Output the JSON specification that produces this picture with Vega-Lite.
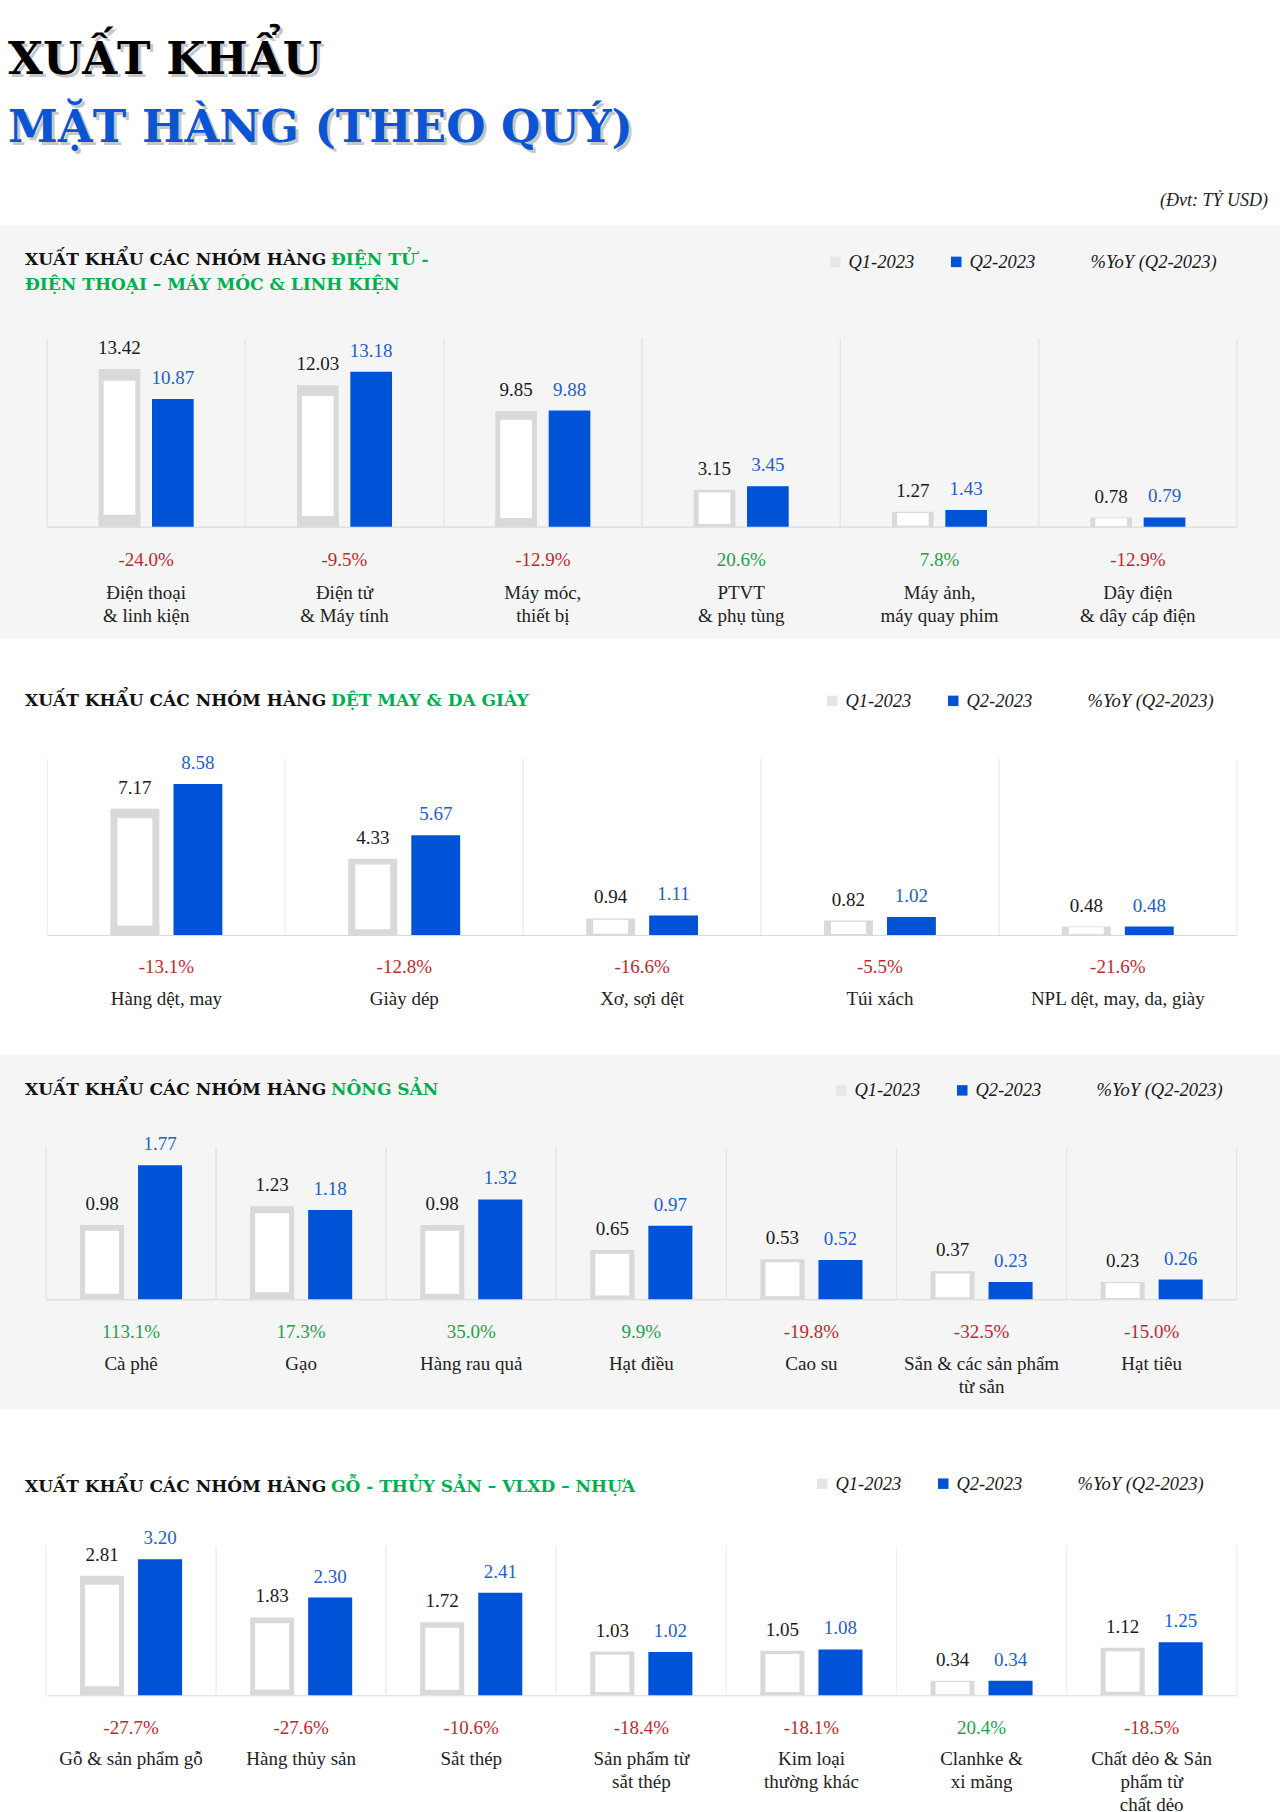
{
  "$schema": "https://vega.github.io/schema/vega-lite/v6.json",
  "padding": 0,
  "autosize": {"type": "pad"},
  "background": "#FFFFFF",
  "config": {
    "view": {"stroke": null},
    "locale": {"number": {"decimal": ".", "thousands": ",", "grouping": [3], "currency": ["$", ""], "minus": "-", "percent": "%"}}
  },
  "datasets": {
    "dientu": [
      {"cat": "Điện thoại|& linh kiện", "q": "Q1-2023", "v": 13.42, "yoy": -0.240},
      {"cat": "Điện thoại|& linh kiện", "q": "Q2-2023", "v": 10.87, "yoy": -0.240},
      {"cat": "Điện tử|& Máy tính", "q": "Q1-2023", "v": 12.03, "yoy": -0.095},
      {"cat": "Điện tử|& Máy tính", "q": "Q2-2023", "v": 13.18, "yoy": -0.095},
      {"cat": "Máy móc,|thiết bị", "q": "Q1-2023", "v": 9.85, "yoy": -0.129},
      {"cat": "Máy móc,|thiết bị", "q": "Q2-2023", "v": 9.88, "yoy": -0.129},
      {"cat": "PTVT|& phụ tùng", "q": "Q1-2023", "v": 3.15, "yoy": 0.206},
      {"cat": "PTVT|& phụ tùng", "q": "Q2-2023", "v": 3.45, "yoy": 0.206},
      {"cat": "Máy ảnh,|máy quay phim", "q": "Q1-2023", "v": 1.27, "yoy": 0.078},
      {"cat": "Máy ảnh,|máy quay phim", "q": "Q2-2023", "v": 1.43, "yoy": 0.078},
      {"cat": "Dây điện|& dây cáp điện", "q": "Q1-2023", "v": 0.78, "yoy": -0.129},
      {"cat": "Dây điện|& dây cáp điện", "q": "Q2-2023", "v": 0.79, "yoy": -0.129}
    ],
    "detmay": [
      {"cat": "Hàng dệt, may", "q": "Q1-2023", "v": 7.17, "yoy": -0.131},
      {"cat": "Hàng dệt, may", "q": "Q2-2023", "v": 8.58, "yoy": -0.131},
      {"cat": "Giày dép", "q": "Q1-2023", "v": 4.33, "yoy": -0.128},
      {"cat": "Giày dép", "q": "Q2-2023", "v": 5.67, "yoy": -0.128},
      {"cat": "Xơ, sợi dệt", "q": "Q1-2023", "v": 0.94, "yoy": -0.166},
      {"cat": "Xơ, sợi dệt", "q": "Q2-2023", "v": 1.11, "yoy": -0.166},
      {"cat": "Túi xách", "q": "Q1-2023", "v": 0.82, "yoy": -0.055},
      {"cat": "Túi xách", "q": "Q2-2023", "v": 1.02, "yoy": -0.055},
      {"cat": "NPL dệt, may, da, giày", "q": "Q1-2023", "v": 0.48, "yoy": -0.216},
      {"cat": "NPL dệt, may, da, giày", "q": "Q2-2023", "v": 0.48, "yoy": -0.216}
    ],
    "nongsan": [
      {"cat": "Cà phê", "q": "Q1-2023", "v": 0.98, "yoy": 1.131},
      {"cat": "Cà phê", "q": "Q2-2023", "v": 1.77, "yoy": 1.131},
      {"cat": "Gạo", "q": "Q1-2023", "v": 1.23, "yoy": 0.173},
      {"cat": "Gạo", "q": "Q2-2023", "v": 1.18, "yoy": 0.173},
      {"cat": "Hàng rau quả", "q": "Q1-2023", "v": 0.98, "yoy": 0.350},
      {"cat": "Hàng rau quả", "q": "Q2-2023", "v": 1.32, "yoy": 0.350},
      {"cat": "Hạt điều", "q": "Q1-2023", "v": 0.65, "yoy": 0.099},
      {"cat": "Hạt điều", "q": "Q2-2023", "v": 0.97, "yoy": 0.099},
      {"cat": "Cao su", "q": "Q1-2023", "v": 0.53, "yoy": -0.198},
      {"cat": "Cao su", "q": "Q2-2023", "v": 0.52, "yoy": -0.198},
      {"cat": "Sắn & các sản phẩm|từ sắn", "q": "Q1-2023", "v": 0.37, "yoy": -0.325},
      {"cat": "Sắn & các sản phẩm|từ sắn", "q": "Q2-2023", "v": 0.23, "yoy": -0.325},
      {"cat": "Hạt tiêu", "q": "Q1-2023", "v": 0.23, "yoy": -0.150},
      {"cat": "Hạt tiêu", "q": "Q2-2023", "v": 0.26, "yoy": -0.150}
    ],
    "go": [
      {"cat": "Gỗ & sản phẩm gỗ", "q": "Q1-2023", "v": 2.81, "yoy": -0.277},
      {"cat": "Gỗ & sản phẩm gỗ", "q": "Q2-2023", "v": 3.20, "yoy": -0.277},
      {"cat": "Hàng thủy sản", "q": "Q1-2023", "v": 1.83, "yoy": -0.276},
      {"cat": "Hàng thủy sản", "q": "Q2-2023", "v": 2.30, "yoy": -0.276},
      {"cat": "Sắt thép", "q": "Q1-2023", "v": 1.72, "yoy": -0.106},
      {"cat": "Sắt thép", "q": "Q2-2023", "v": 2.41, "yoy": -0.106},
      {"cat": "Sản phẩm từ|sắt thép", "q": "Q1-2023", "v": 1.03, "yoy": -0.184},
      {"cat": "Sản phẩm từ|sắt thép", "q": "Q2-2023", "v": 1.02, "yoy": -0.184},
      {"cat": "Kim loại|thường khác", "q": "Q1-2023", "v": 1.05, "yoy": -0.181},
      {"cat": "Kim loại|thường khác", "q": "Q2-2023", "v": 1.08, "yoy": -0.181},
      {"cat": "Clanhke &|xi măng", "q": "Q1-2023", "v": 0.34, "yoy": 0.204},
      {"cat": "Clanhke &|xi măng", "q": "Q2-2023", "v": 0.34, "yoy": 0.204},
      {"cat": "Chất dẻo & Sản|phẩm từ|chất dẻo", "q": "Q1-2023", "v": 1.12, "yoy": -0.185},
      {"cat": "Chất dẻo & Sản|phẩm từ|chất dẻo", "q": "Q2-2023", "v": 1.25, "yoy": -0.185}
    ]
  },
  "spacing": 0,
  "bounds": "flush",
  "resolve": {
    "scale": {"x": "independent", "y": "independent", "xOffset": "independent", "fill": "independent"},
    "legend": {"fill": "independent"}
  },
  "vconcat": [
    {
      "width": 1280, "height": 225,
      "view": {"fill": "#FFFFFF", "stroke": null},
      "data": {"values": [{}]},
      "layer": [
        {"mark": {"type": "text", "text": "XUẤT KHẨU", "x": 11, "y": 77, "align": "left", "baseline": "alphabetic", "font": "DejaVu Serif", "fontWeight": "bold", "fontSize": 45, "color": "#8f8f8f", "opacity": 0.5}},
        {"mark": {"type": "text", "text": "XUẤT KHẨU", "x": 8, "y": 74, "align": "left", "baseline": "alphabetic", "font": "DejaVu Serif", "fontWeight": "bold", "fontSize": 45, "color": "#000000"}},
        {"mark": {"type": "text", "text": "MẶT HÀNG (THEO QUÝ)", "x": 11, "y": 145, "align": "left", "baseline": "alphabetic", "font": "DejaVu Serif", "fontWeight": "bold", "fontSize": 45, "color": "#8f8f8f", "opacity": 0.5}},
        {"mark": {"type": "text", "text": "MẶT HÀNG (THEO QUÝ)", "x": 8, "y": 142, "align": "left", "baseline": "alphabetic", "font": "DejaVu Serif", "fontWeight": "bold", "fontSize": 45, "color": "#0B55D4"}},
        {"mark": {"type": "text", "text": "(Đvt: TỶ USD)", "x": 1268, "y": 206, "align": "right", "baseline": "alphabetic", "font": "Liberation Serif", "fontStyle": "italic", "fontSize": 18, "color": "#222222"}}
      ]
    },
    {
      "width": 1280, "height": 413,
      "view": {"fill": "#F5F5F5", "stroke": null},
      "layer": [
        {
          "data": {"name": "dientu"},
          "encoding": {"x": {"field": "cat", "type": "nominal", "sort": null, "scale": {"range": [47, 1237], "paddingInner": 0, "paddingOuter": 0}, "axis": {"labels": false, "ticks": false, "title": null, "grid": false, "domainColor": "#D6D6D6", "offset": -111.3}}},
          "layer": [
            {"mark": {"type": "rule", "color": "#E6E6E6", "strokeWidth": 1}, "encoding": {"x": {"field": "cat", "type": "nominal", "sort": null, "bandPosition": 0}, "y": {"datum": 0, "type": "quantitative", "scale": {"domain": [0, 16], "range": [301.7, 113.7], "nice": false}, "axis": null}, "y2": {"datum": 16}}},
            {"mark": {"type": "rule", "color": "#E6E6E6", "strokeWidth": 1}, "encoding": {"x": {"field": "cat", "type": "nominal", "sort": null, "bandPosition": 1}, "y": {"datum": 0, "type": "quantitative", "scale": {"domain": [0, 16], "range": [301.7, 113.7], "nice": false}, "axis": null}, "y2": {"datum": 16}}},
            {"transform": [{"filter": "datum.q == 'Q1-2023'"}], "mark": {"type": "bar", "color": "#D9D9D9"}, "encoding": {"xOffset": {"field": "q", "type": "nominal", "scale": {"domain": ["Q1-2023", "Q2-2023"], "paddingInner": 0.219, "paddingOuter": 0.968}}, "y": {"field": "v", "type": "quantitative", "scale": {"domain": [0, 16], "range": [301.7, 113.7], "nice": false}, "axis": null}}},
            {"transform": [{"filter": "datum.q == 'Q1-2023'"}], "mark": {"type": "bar", "color": "#FFFFFF", "width": 31.7}, "encoding": {"xOffset": {"field": "q", "type": "nominal", "scale": {"domain": ["Q1-2023", "Q2-2023"], "paddingInner": 0.219, "paddingOuter": 0.968}}, "y": {"field": "v", "type": "quantitative", "scale": {"domain": [0, 16], "range": [301.7, 127.8], "nice": false}, "axis": null}}},
            {"transform": [{"filter": "datum.q == 'Q1-2023'"}], "mark": {"type": "bar", "color": "#D9D9D9"}, "encoding": {"xOffset": {"field": "q", "type": "nominal", "scale": {"domain": ["Q1-2023", "Q2-2023"], "paddingInner": 0.219, "paddingOuter": 0.968}}, "y": {"field": "v", "type": "quantitative", "scale": {"domain": [0, 16], "range": [301.7, 287.6], "nice": false}, "axis": null}}},
            {"transform": [{"filter": "datum.q == 'Q2-2023'"}], "mark": {"type": "bar"}, "encoding": {"xOffset": {"field": "q", "type": "nominal", "scale": {"domain": ["Q1-2023", "Q2-2023"], "paddingInner": 0.219, "paddingOuter": 0.968}}, "y": {"field": "v", "type": "quantitative", "scale": {"domain": [0, 16], "range": [301.7, 113.7], "nice": false}, "axis": null},
              "fill": {"field": "q", "type": "nominal", "scale": {"domain": ["Q1-2023", "Q2-2023", "%YoY (Q2-2023)"], "range": ["#E6E6E6", "#0052D6", "rgba(0,0,0,0)"]}, "legend": {"orient": "none", "legendX": 826, "legendY": 27.5, "direction": "horizontal", "title": null, "symbolType": "square", "symbolSize": 110, "symbolStrokeWidth": 0, "labelFont": "Liberation Serif", "labelFontStyle": "italic", "labelFontSize": 18.5, "labelColor": "#1A1A1A", "labelOffset": 4, "columnPadding": 32, "padding": 0, "labelLimit": 300}}}},
            {"mark": {"type": "text", "font": "Liberation Serif", "fontSize": 19, "baseline": "alphabetic", "dy": -15}, "encoding": {"xOffset": {"field": "q", "type": "nominal", "scale": {"domain": ["Q1-2023", "Q2-2023"], "paddingInner": 0.219, "paddingOuter": 0.968}}, "y": {"field": "v", "type": "quantitative", "scale": {"domain": [0, 16], "range": [301.7, 113.7], "nice": false}, "axis": null}, "text": {"field": "v", "type": "quantitative", "format": ".2f"}, "color": {"condition": {"test": "datum.q == 'Q2-2023'", "value": "#2160CC"}, "value": "#1A1A1A"}}},
            {"transform": [{"filter": "datum.q == 'Q2-2023'"}], "mark": {"type": "text", "font": "Liberation Serif", "fontSize": 19, "baseline": "alphabetic", "dy": 39}, "encoding": {"y": {"datum": 0, "type": "quantitative", "scale": {"domain": [0, 16], "range": [301.7, 113.7], "nice": false}, "axis": null}, "text": {"field": "yoy", "type": "quantitative", "format": ".1%"}, "color": {"condition": {"test": "datum.yoy < 0", "value": "#C0282E"}, "value": "#1AA34A"}}},
            {"transform": [{"filter": "datum.q == 'Q2-2023'"}], "mark": {"type": "text", "font": "Liberation Serif", "fontSize": 19, "baseline": "alphabetic", "dy": 72.5, "lineBreak": "|", "lineHeight": 23, "color": "#222222"}, "encoding": {"y": {"datum": 0, "type": "quantitative", "scale": {"domain": [0, 16], "range": [301.7, 113.7], "nice": false}, "axis": null}, "text": {"field": "cat", "type": "nominal"}}}
          ],
          "resolve": {"scale": {"y": "independent"}}
        },
        {"data": {"values": [{}]}, "mark": {"type": "text", "text": "XUẤT KHẨU CÁC NHÓM HÀNG", "x": 25, "y": 39.5, "align": "left", "baseline": "alphabetic", "font": "DejaVu Serif", "fontWeight": "bold", "fontSize": 17, "color": "#111111"}},
        {"data": {"values": [{}]}, "mark": {"type": "text", "text": "ĐIỆN TỬ -", "x": 331, "y": 39.5, "align": "left", "baseline": "alphabetic", "font": "DejaVu Serif", "fontWeight": "bold", "fontSize": 17, "color": "#00B050"}},
        {"data": {"values": [{}]}, "mark": {"type": "text", "text": "ĐIỆN THOẠI – MÁY MÓC & LINH KIỆN", "x": 25, "y": 64.5, "align": "left", "baseline": "alphabetic", "font": "DejaVu Serif", "fontWeight": "bold", "fontSize": 17, "color": "#00B050"}}
      ]
    },
    {
      "width": 1280, "height": 417,
      "view": {"fill": "#FFFFFF", "stroke": null},
      "layer": [
        {
          "data": {"name": "detmay"},
          "encoding": {"x": {"field": "cat", "type": "nominal", "sort": null, "scale": {"range": [47.5, 1236.7], "paddingInner": 0, "paddingOuter": 0}, "axis": {"labels": false, "ticks": false, "title": null, "grid": false, "domainColor": "#DADADA", "offset": -120}}},
          "layer": [
            {"mark": {"type": "rule", "color": "#EFEFEF", "strokeWidth": 1}, "encoding": {"x": {"field": "cat", "type": "nominal", "sort": null, "bandPosition": 0}, "y": {"datum": 0, "type": "quantitative", "scale": {"domain": [0, 10], "range": [297, 121], "nice": false}, "axis": null}, "y2": {"datum": 10}}},
            {"mark": {"type": "rule", "color": "#EFEFEF", "strokeWidth": 1}, "encoding": {"x": {"field": "cat", "type": "nominal", "sort": null, "bandPosition": 1}, "y": {"datum": 0, "type": "quantitative", "scale": {"domain": [0, 10], "range": [297, 121], "nice": false}, "axis": null}, "y2": {"datum": 10}}},
            {"transform": [{"filter": "datum.q == 'Q1-2023'"}], "mark": {"type": "bar", "color": "#D9D9D9"}, "encoding": {"xOffset": {"field": "q", "type": "nominal", "scale": {"domain": ["Q1-2023", "Q2-2023"], "paddingInner": 0.224, "paddingOuter": 1.162}}, "y": {"field": "v", "type": "quantitative", "scale": {"domain": [0, 10], "range": [297, 121], "nice": false}, "axis": null}}},
            {"transform": [{"filter": "datum.q == 'Q1-2023'"}], "mark": {"type": "bar", "color": "#FFFFFF", "width": 35}, "encoding": {"xOffset": {"field": "q", "type": "nominal", "scale": {"domain": ["Q1-2023", "Q2-2023"], "paddingInner": 0.224, "paddingOuter": 1.162}}, "y": {"field": "v", "type": "quantitative", "scale": {"domain": [0, 10], "range": [297, 134.2], "nice": false}, "axis": null}}},
            {"transform": [{"filter": "datum.q == 'Q1-2023'"}], "mark": {"type": "bar", "color": "#D9D9D9"}, "encoding": {"xOffset": {"field": "q", "type": "nominal", "scale": {"domain": ["Q1-2023", "Q2-2023"], "paddingInner": 0.224, "paddingOuter": 1.162}}, "y": {"field": "v", "type": "quantitative", "scale": {"domain": [0, 10], "range": [297, 283.8], "nice": false}, "axis": null}}},
            {"transform": [{"filter": "datum.q == 'Q2-2023'"}], "mark": {"type": "bar"}, "encoding": {"xOffset": {"field": "q", "type": "nominal", "scale": {"domain": ["Q1-2023", "Q2-2023"], "paddingInner": 0.224, "paddingOuter": 1.162}}, "y": {"field": "v", "type": "quantitative", "scale": {"domain": [0, 10], "range": [297, 121], "nice": false}, "axis": null},
              "fill": {"field": "q", "type": "nominal", "scale": {"domain": ["Q1-2023", "Q2-2023", "%YoY (Q2-2023)"], "range": ["#E6E6E6", "#0052D6", "rgba(0,0,0,0)"]}, "legend": {"orient": "none", "legendX": 823, "legendY": 53.5, "direction": "horizontal", "title": null, "symbolType": "square", "symbolSize": 110, "symbolStrokeWidth": 0, "labelFont": "Liberation Serif", "labelFontStyle": "italic", "labelFontSize": 18.5, "labelColor": "#1A1A1A", "labelOffset": 4, "columnPadding": 32, "padding": 0, "labelLimit": 300}}}},
            {"mark": {"type": "text", "font": "Liberation Serif", "fontSize": 19, "baseline": "alphabetic", "dy": -15}, "encoding": {"xOffset": {"field": "q", "type": "nominal", "scale": {"domain": ["Q1-2023", "Q2-2023"], "paddingInner": 0.224, "paddingOuter": 1.162}}, "y": {"field": "v", "type": "quantitative", "scale": {"domain": [0, 10], "range": [297, 121], "nice": false}, "axis": null}, "text": {"field": "v", "type": "quantitative", "format": ".2f"}, "color": {"condition": {"test": "datum.q == 'Q2-2023'", "value": "#2160CC"}, "value": "#1A1A1A"}}},
            {"transform": [{"filter": "datum.q == 'Q2-2023'"}], "mark": {"type": "text", "font": "Liberation Serif", "fontSize": 19, "baseline": "alphabetic", "dy": 38}, "encoding": {"y": {"datum": 0, "type": "quantitative", "scale": {"domain": [0, 10], "range": [297, 121], "nice": false}, "axis": null}, "text": {"field": "yoy", "type": "quantitative", "format": ".1%"}, "color": {"condition": {"test": "datum.yoy < 0", "value": "#C0282E"}, "value": "#1AA34A"}}},
            {"transform": [{"filter": "datum.q == 'Q2-2023'"}], "mark": {"type": "text", "font": "Liberation Serif", "fontSize": 19, "baseline": "alphabetic", "dy": 70, "lineBreak": "|", "lineHeight": 23, "color": "#222222"}, "encoding": {"y": {"datum": 0, "type": "quantitative", "scale": {"domain": [0, 10], "range": [297, 121], "nice": false}, "axis": null}, "text": {"field": "cat", "type": "nominal"}}}
          ],
          "resolve": {"scale": {"y": "independent"}}
        },
        {"data": {"values": [{}]}, "mark": {"type": "text", "text": "XUẤT KHẨU CÁC NHÓM HÀNG", "x": 25, "y": 67.7, "align": "left", "baseline": "alphabetic", "font": "DejaVu Serif", "fontWeight": "bold", "fontSize": 17, "color": "#111111"}},
        {"data": {"values": [{}]}, "mark": {"type": "text", "text": "DỆT MAY & DA GIÀY", "x": 331, "y": 67.7, "align": "left", "baseline": "alphabetic", "font": "DejaVu Serif", "fontWeight": "bold", "fontSize": 17, "color": "#00B050"}}
      ]
    },
    {
      "width": 1280, "height": 354,
      "view": {"fill": "#F5F5F5", "stroke": null},
      "layer": [
        {
          "data": {"name": "nongsan"},
          "encoding": {"x": {"field": "cat", "type": "nominal", "sort": null, "scale": {"range": [46, 1236.7], "paddingInner": 0, "paddingOuter": 0}, "axis": {"labels": false, "ticks": false, "title": null, "grid": false, "domainColor": "#D6D6D6", "offset": -109.7}}},
          "layer": [
            {"mark": {"type": "rule", "color": "#E6E6E6", "strokeWidth": 1}, "encoding": {"x": {"field": "cat", "type": "nominal", "sort": null, "bandPosition": 0}, "y": {"datum": 0, "type": "quantitative", "scale": {"domain": [0, 2], "range": [244.3, 92.9], "nice": false}, "axis": null}, "y2": {"datum": 2}}},
            {"mark": {"type": "rule", "color": "#E6E6E6", "strokeWidth": 1}, "encoding": {"x": {"field": "cat", "type": "nominal", "sort": null, "bandPosition": 1}, "y": {"datum": 0, "type": "quantitative", "scale": {"domain": [0, 2], "range": [244.3, 92.9], "nice": false}, "axis": null}, "y2": {"datum": 2}}},
            {"transform": [{"filter": "datum.q == 'Q1-2023'"}], "mark": {"type": "bar", "color": "#D9D9D9"}, "encoding": {"xOffset": {"field": "q", "type": "nominal", "scale": {"domain": ["Q1-2023", "Q2-2023"], "paddingInner": 0.241, "paddingOuter": 0.586}}, "y": {"field": "v", "type": "quantitative", "scale": {"domain": [0, 2], "range": [244.3, 92.9], "nice": false}, "axis": null}}},
            {"transform": [{"filter": "datum.q == 'Q1-2023'"}], "mark": {"type": "bar", "color": "#FFFFFF", "width": 34}, "encoding": {"xOffset": {"field": "q", "type": "nominal", "scale": {"domain": ["Q1-2023", "Q2-2023"], "paddingInner": 0.241, "paddingOuter": 0.586}}, "y": {"field": "v", "type": "quantitative", "scale": {"domain": [0, 2], "range": [244.3, 104.3], "nice": false}, "axis": null}}},
            {"transform": [{"filter": "datum.q == 'Q1-2023'"}], "mark": {"type": "bar", "color": "#D9D9D9"}, "encoding": {"xOffset": {"field": "q", "type": "nominal", "scale": {"domain": ["Q1-2023", "Q2-2023"], "paddingInner": 0.241, "paddingOuter": 0.586}}, "y": {"field": "v", "type": "quantitative", "scale": {"domain": [0, 2], "range": [244.3, 232.9], "nice": false}, "axis": null}}},
            {"transform": [{"filter": "datum.q == 'Q2-2023'"}], "mark": {"type": "bar"}, "encoding": {"xOffset": {"field": "q", "type": "nominal", "scale": {"domain": ["Q1-2023", "Q2-2023"], "paddingInner": 0.241, "paddingOuter": 0.586}}, "y": {"field": "v", "type": "quantitative", "scale": {"domain": [0, 2], "range": [244.3, 92.9], "nice": false}, "axis": null},
              "fill": {"field": "q", "type": "nominal", "scale": {"domain": ["Q1-2023", "Q2-2023", "%YoY (Q2-2023)"], "range": ["#E6E6E6", "#0052D6", "rgba(0,0,0,0)"]}, "legend": {"orient": "none", "legendX": 832, "legendY": 26, "direction": "horizontal", "title": null, "symbolType": "square", "symbolSize": 110, "symbolStrokeWidth": 0, "labelFont": "Liberation Serif", "labelFontStyle": "italic", "labelFontSize": 18.5, "labelColor": "#1A1A1A", "labelOffset": 4, "columnPadding": 32, "padding": 0, "labelLimit": 300}}}},
            {"mark": {"type": "text", "font": "Liberation Serif", "fontSize": 19, "baseline": "alphabetic", "dy": -15}, "encoding": {"xOffset": {"field": "q", "type": "nominal", "scale": {"domain": ["Q1-2023", "Q2-2023"], "paddingInner": 0.241, "paddingOuter": 0.586}}, "y": {"field": "v", "type": "quantitative", "scale": {"domain": [0, 2], "range": [244.3, 92.9], "nice": false}, "axis": null}, "text": {"field": "v", "type": "quantitative", "format": ".2f"}, "color": {"condition": {"test": "datum.q == 'Q2-2023'", "value": "#2160CC"}, "value": "#1A1A1A"}}},
            {"transform": [{"filter": "datum.q == 'Q2-2023'"}], "mark": {"type": "text", "font": "Liberation Serif", "fontSize": 19, "baseline": "alphabetic", "dy": 38.7}, "encoding": {"y": {"datum": 0, "type": "quantitative", "scale": {"domain": [0, 2], "range": [244.3, 92.9], "nice": false}, "axis": null}, "text": {"field": "yoy", "type": "quantitative", "format": ".1%"}, "color": {"condition": {"test": "datum.yoy < 0", "value": "#C0282E"}, "value": "#1AA34A"}}},
            {"transform": [{"filter": "datum.q == 'Q2-2023'"}], "mark": {"type": "text", "font": "Liberation Serif", "fontSize": 19, "baseline": "alphabetic", "dy": 70.7, "lineBreak": "|", "lineHeight": 23, "color": "#222222"}, "encoding": {"y": {"datum": 0, "type": "quantitative", "scale": {"domain": [0, 2], "range": [244.3, 92.9], "nice": false}, "axis": null}, "text": {"field": "cat", "type": "nominal"}}}
          ],
          "resolve": {"scale": {"y": "independent"}}
        },
        {"data": {"values": [{}]}, "mark": {"type": "text", "text": "XUẤT KHẨU CÁC NHÓM HÀNG", "x": 25, "y": 40, "align": "left", "baseline": "alphabetic", "font": "DejaVu Serif", "fontWeight": "bold", "fontSize": 17, "color": "#111111"}},
        {"data": {"values": [{}]}, "mark": {"type": "text", "text": "NÔNG SẢN", "x": 331, "y": 40, "align": "left", "baseline": "alphabetic", "font": "DejaVu Serif", "fontWeight": "bold", "fontSize": 17, "color": "#00B050"}}
      ]
    },
    {
      "width": 1280, "height": 403,
      "view": {"fill": "#FFFFFF", "stroke": null},
      "layer": [
        {
          "data": {"name": "go"},
          "encoding": {"x": {"field": "cat", "type": "nominal", "sort": null, "scale": {"range": [46, 1236.7], "paddingInner": 0, "paddingOuter": 0}, "axis": {"labels": false, "ticks": false, "title": null, "grid": false, "domainColor": "#DADADA", "offset": -116.7}}},
          "layer": [
            {"mark": {"type": "rule", "color": "#EFEFEF", "strokeWidth": 1}, "encoding": {"x": {"field": "cat", "type": "nominal", "sort": null, "bandPosition": 0}, "y": {"datum": 0, "type": "quantitative", "scale": {"domain": [0, 3.5], "range": [286.3, 137.5], "nice": false}, "axis": null}, "y2": {"datum": 3.5}}},
            {"mark": {"type": "rule", "color": "#EFEFEF", "strokeWidth": 1}, "encoding": {"x": {"field": "cat", "type": "nominal", "sort": null, "bandPosition": 1}, "y": {"datum": 0, "type": "quantitative", "scale": {"domain": [0, 3.5], "range": [286.3, 137.5], "nice": false}, "axis": null}, "y2": {"datum": 3.5}}},
            {"transform": [{"filter": "datum.q == 'Q1-2023'"}], "mark": {"type": "bar", "color": "#D9D9D9"}, "encoding": {"xOffset": {"field": "q", "type": "nominal", "scale": {"domain": ["Q1-2023", "Q2-2023"], "paddingInner": 0.241, "paddingOuter": 0.586}}, "y": {"field": "v", "type": "quantitative", "scale": {"domain": [0, 3.5], "range": [286.3, 137.5], "nice": false}, "axis": null}}},
            {"transform": [{"filter": "datum.q == 'Q1-2023'"}], "mark": {"type": "bar", "color": "#FFFFFF", "width": 34}, "encoding": {"xOffset": {"field": "q", "type": "nominal", "scale": {"domain": ["Q1-2023", "Q2-2023"], "paddingInner": 0.241, "paddingOuter": 0.586}}, "y": {"field": "v", "type": "quantitative", "scale": {"domain": [0, 3.5], "range": [286.3, 148.7], "nice": false}, "axis": null}}},
            {"transform": [{"filter": "datum.q == 'Q1-2023'"}], "mark": {"type": "bar", "color": "#D9D9D9"}, "encoding": {"xOffset": {"field": "q", "type": "nominal", "scale": {"domain": ["Q1-2023", "Q2-2023"], "paddingInner": 0.241, "paddingOuter": 0.586}}, "y": {"field": "v", "type": "quantitative", "scale": {"domain": [0, 3.5], "range": [286.3, 275.1], "nice": false}, "axis": null}}},
            {"transform": [{"filter": "datum.q == 'Q2-2023'"}], "mark": {"type": "bar"}, "encoding": {"xOffset": {"field": "q", "type": "nominal", "scale": {"domain": ["Q1-2023", "Q2-2023"], "paddingInner": 0.241, "paddingOuter": 0.586}}, "y": {"field": "v", "type": "quantitative", "scale": {"domain": [0, 3.5], "range": [286.3, 137.5], "nice": false}, "axis": null},
              "fill": {"field": "q", "type": "nominal", "scale": {"domain": ["Q1-2023", "Q2-2023", "%YoY (Q2-2023)"], "range": ["#E6E6E6", "#0052D6", "rgba(0,0,0,0)"]}, "legend": {"orient": "none", "legendX": 813, "legendY": 65.3, "direction": "horizontal", "title": null, "symbolType": "square", "symbolSize": 110, "symbolStrokeWidth": 0, "labelFont": "Liberation Serif", "labelFontStyle": "italic", "labelFontSize": 18.5, "labelColor": "#1A1A1A", "labelOffset": 4, "columnPadding": 32, "padding": 0, "labelLimit": 300}}}},
            {"mark": {"type": "text", "font": "Liberation Serif", "fontSize": 19, "baseline": "alphabetic", "dy": -15}, "encoding": {"xOffset": {"field": "q", "type": "nominal", "scale": {"domain": ["Q1-2023", "Q2-2023"], "paddingInner": 0.241, "paddingOuter": 0.586}}, "y": {"field": "v", "type": "quantitative", "scale": {"domain": [0, 3.5], "range": [286.3, 137.5], "nice": false}, "axis": null}, "text": {"field": "v", "type": "quantitative", "format": ".2f"}, "color": {"condition": {"test": "datum.q == 'Q2-2023'", "value": "#2160CC"}, "value": "#1A1A1A"}}},
            {"transform": [{"filter": "datum.q == 'Q2-2023'"}], "mark": {"type": "text", "font": "Liberation Serif", "fontSize": 19, "baseline": "alphabetic", "dy": 38.7}, "encoding": {"y": {"datum": 0, "type": "quantitative", "scale": {"domain": [0, 3.5], "range": [286.3, 137.5], "nice": false}, "axis": null}, "text": {"field": "yoy", "type": "quantitative", "format": ".1%"}, "color": {"condition": {"test": "datum.yoy < 0", "value": "#C0282E"}, "value": "#1AA34A"}}},
            {"transform": [{"filter": "datum.q == 'Q2-2023'"}], "mark": {"type": "text", "font": "Liberation Serif", "fontSize": 19, "baseline": "alphabetic", "dy": 70, "lineBreak": "|", "lineHeight": 23, "color": "#222222"}, "encoding": {"y": {"datum": 0, "type": "quantitative", "scale": {"domain": [0, 3.5], "range": [286.3, 137.5], "nice": false}, "axis": null}, "text": {"field": "cat", "type": "nominal"}}}
          ],
          "resolve": {"scale": {"y": "independent"}}
        },
        {"data": {"values": [{}]}, "mark": {"type": "text", "text": "XUẤT KHẨU CÁC NHÓM HÀNG", "x": 25, "y": 82.7, "align": "left", "baseline": "alphabetic", "font": "DejaVu Serif", "fontWeight": "bold", "fontSize": 17, "color": "#111111"}},
        {"data": {"values": [{}]}, "mark": {"type": "text", "text": "GỖ - THỦY SẢN – VLXD – NHỰA", "x": 331, "y": 82.7, "align": "left", "baseline": "alphabetic", "font": "DejaVu Serif", "fontWeight": "bold", "fontSize": 17, "color": "#00B050"}}
      ]
    }
  ]
}
